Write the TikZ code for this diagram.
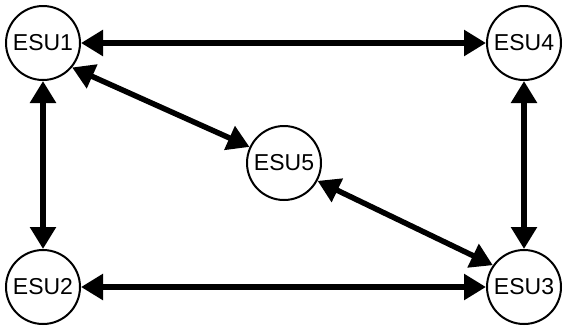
\documentclass[tikz,border=0pt]{standalone}
\usepackage{fontspec}
\setmainfont{Liberation Sans}
\usetikzlibrary{arrows.meta}
\begin{document}
\begin{tikzpicture}[x=1pt,y=-1pt,
  esu/.style={circle,draw,line width=2pt,minimum size=74pt,inner sep=0pt,font=\fontsize{23}{23}\selectfont},
  link/.style={line width=5.5pt,{Triangle[length=22pt,width=25pt]}-{Triangle[length=22pt,width=25pt]}}]
\useasboundingbox (0,0) rectangle (567,333);
\node[esu] (e1) at (43,43) {ESU1};
\node[esu] (e4) at (524,43) {ESU4};
\node[esu] (e5) at (284,163) {ESU5};
\node[esu] (e2) at (43,287) {ESU2};
\node[esu] (e3) at (524,287) {ESU3};
\draw[link] (e1) -- (e4);
\draw[link] (e1) -- (e2);
\draw[link] (e2) -- (e3);
\draw[link] (e4) -- (e3);
\draw[link] (e1.-40) -- (e5.155);
\draw[link] (e5.-28) -- (e3.145);
\end{tikzpicture}
\end{document}
